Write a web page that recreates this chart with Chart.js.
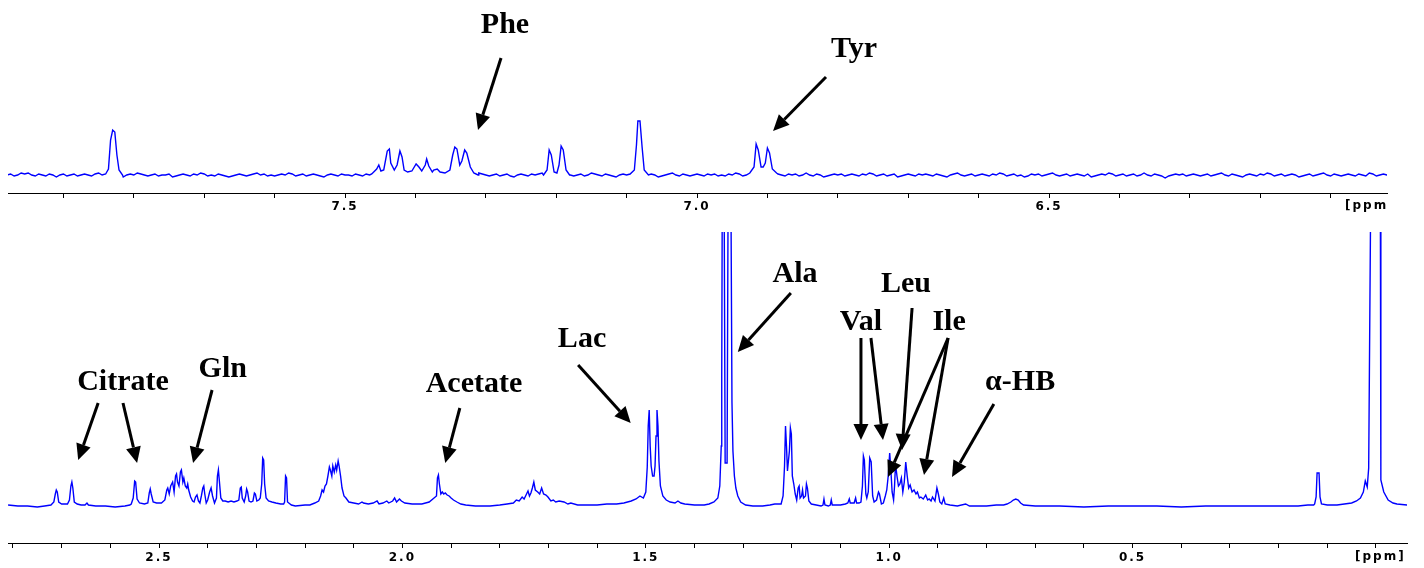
<!DOCTYPE html>
<html>
<head>
<meta charset="utf-8">
<script src="https://cdn.jsdelivr.net/npm/chart.js@4.4.1/dist/chart.umd.min.js"></script>
<style>
  html, body { margin: 0; padding: 0; background: #fff; }
  body { width: 1424px; height: 568px; position: relative; overflow: hidden; }
  #topBox { position: absolute; left: 0; top: 0; width: 1388px; height: 218px; overflow: hidden; }
  #bottomBox { position: absolute; left: 0; top: 228px; width: 1424px; height: 340px; }
</style>
</head>
<body>
<div id="topBox"><canvas id="topChart" width="1388" height="218"></canvas></div>
<div id="bottomBox"><canvas id="bottomChart" width="1424" height="340"></canvas></div>
<script>
// ---- aromatic region (top spectrum), ppm / intensity ----
const topRange = [6.0199, 7.9787];
const topGridStart = 7.98, topGridStep = 0.005;
// baseline noise, one value per grid step
const topNoise = [
  0,1,-1,0,2,1,2,0,-1,1,0,-1,1,0,-2,0,1,-1,0,1,
  -1,0,1,0,-1,1,2,0,1,-1,0,1,-1,-2,0,1,0,2,1,0,
  -1,0,1,-1,0,0,1,-2,-1,0,1,0,-1,1,0,2,1,-1,0,-1,
  1,0,-1,-2,-1,0,1,0,-1,0,1,2,0,1,-1,0,-1,0,1,0,
  2,1,-1,0,1,-1,0,1,0,-1,-2,0,1,0,-1,1,0,0,-1,1,
  0,-1,1,0,2,0,-1,1,0,-1,0,1,-1,-3,-1,0,1,0,1,-1,
  0,1,-1,0,1,0,-2,-1,0,1,0,-1,1,0,2,1,0,-1,0,1,
  -1,0,1,-1,-2,0,1,0,-1,1,0,1,2,0,-1,0,1,-1,0,1,
  0,-1,0,1,-1,0,2,1,0,-1,1,0,-1,-2,0,1,0,1,-1,0,
  1,-1,0,1,0,-2,-1,0,1,2,0,-1,1,0,-1,0,1,0,-1,1,
  0,1,-1,0,-1,1,0,2,1,-1,0,1,0,-1,0,1,-1,-2,0,1,
  0,-1,1,0,1,-1,0,2,0,-1,1,0,-2,-1,0,1,0,1,-1,0,
  1,0,-1,1,0,2,1,-1,0,1,-1,0,1,-2,-1,0,1,0,-1,1,
  0,1,0,-1,1,0,-1,-2,0,1,2,0,-1,0,1,-1,0,1,0,-1,
  1,0,2,1,-1,0,1,-1,0,-2,-1,1,0,1,-1,0,1,2,0,-1,
  0,1,-1,0,1,0,-1,1,-2,-1,0,1,0,2,1,-1,0,1,-1,0,
  1,-1,0,2,0,-1,1,0,-1,-3,-1,0,1,0,1,-1,0,1,0,-1,
  0,1,-1,0,1,2,0,-1,1,0,-1,-2,0,1,0,-1,1,0,2,1,
  -1,0,1,-1,0,1,0,-2,-1,0,1,-1,0,1,2,0,-1,1,0,-1,
  0,1,0,-1,1,0,-1,2,1,-1,0,1,0,-2,-1,1,0,1,-1,0
];
const peak783 = [[7.840,1],[7.836,6],[7.833,35],[7.830,45],[7.827,43],[7.824,20],[7.821,5],[7.816,0]];
const pheMultiplet = [
  [7.462,1],[7.455,6],[7.452,10],[7.449,4],[7.445,5],[7.440,24],[7.437,26],[7.435,12],[7.430,5],
  [7.426,10],[7.422,24],[7.419,18],[7.416,5],[7.411,3],[7.405,4],[7.399,11],[7.395,8],[7.391,4],
  [7.386,10],[7.384,16],[7.381,9],[7.376,3],[7.374,5],[7.369,6],[7.365,3],[7.358,2],[7.351,5],
  [7.347,20],[7.344,28],[7.341,26],[7.337,10],[7.334,14],[7.330,25],[7.327,22],[7.322,8],[7.317,2],[7.311,0]
];
const doublet720 = [[7.218,0],[7.213,5],[7.210,25],[7.207,20],[7.203,3],[7.199,2],[7.196,10],[7.193,29],[7.190,25],[7.186,5],[7.181,0]];
const peak708 = [[7.095,1],[7.089,5],[7.086,30],[7.084,54],[7.081,54],[7.078,28],[7.075,5],[7.069,0]];
const tyrDoublet = [[6.925,2],[6.919,8],[6.916,31],[6.913,25],[6.909,8],[6.906,8],[6.903,12],[6.900,27],[6.897,22],[6.893,6],[6.887,2]];

// ---- aliphatic region (bottom spectrum), ppm / intensity ----
const bottomRange = [-0.0637, 2.8102];
const citrateGlnTrace = [
  [2.810,1],[2.790,0],[2.770,0],[2.750,-1],[2.735,0],[2.722,1],[2.716,4],[2.713,12],[2.711,16],[2.709,14],[2.706,4],[2.700,2],
  [2.688,2],[2.684,6],[2.681,20],[2.679,24],[2.677,18],[2.674,4],[2.668,2],[2.660,1],[2.652,1],[2.648,3],[2.645,1],
  [2.630,0],[2.610,0],[2.590,-1],[2.570,0],[2.560,1],
  [2.557,2],[2.553,8],[2.550,25],[2.548,24],[2.545,7],[2.540,3],[2.530,2],
  [2.523,3],[2.520,13],[2.518,17],[2.516,12],[2.512,4],[2.505,3],[2.495,3],
  [2.488,6],[2.484,16],[2.482,18],[2.479,12],[2.476,20],[2.472,24],[2.469,14],[2.466,30],[2.464,32],[2.462,24],
  [2.459,20],[2.456,34],[2.454,36],[2.451,24],[2.449,28],[2.446,20],[2.443,18],[2.441,22],[2.439,16],[2.435,9],
  [2.431,5],[2.428,4],[2.425,9],[2.422,11],[2.419,5],[2.416,3],[2.413,10],[2.410,18],[2.408,20],[2.406,12],
  [2.403,3],[2.400,6],[2.396,14],[2.393,18],[2.390,10],[2.386,3],[2.382,8],[2.380,30],[2.378,36],[2.376,25],
  [2.373,8],[2.369,5],[2.364,5],[2.358,4],[2.352,5],[2.346,4],[2.340,5],
  [2.336,6],[2.333,18],[2.331,19],[2.329,8],[2.325,4],[2.322,10],[2.320,17],[2.318,14],[2.315,5],[2.311,4],
  [2.307,5],[2.304,13],[2.302,12],[2.299,5],[2.295,6],
  [2.292,8],[2.289,22],[2.287,48],[2.285,46],[2.283,22],[2.280,8],[2.275,5],[2.268,4],[2.260,3],[2.250,2],[2.244,2],
  [2.242,4],[2.240,30],[2.238,28],[2.236,4],[2.228,1],[2.220,0],[2.200,1],[2.190,1],[2.180,3],
  [2.172,5],[2.168,10],[2.165,16],[2.162,14],[2.159,20],[2.156,22],[2.153,30],[2.150,39],[2.148,36],[2.145,30],
  [2.143,40],[2.140,34],[2.137,41],[2.135,36],[2.132,45],[2.130,40],[2.127,30],[2.124,18],[2.120,10],[2.116,8],
  [2.110,4],[2.100,3],[2.090,2]
];
const acetateTrace = [
  [2.083,4],[2.080,3],[2.070,2],[2.060,3],[2.052,5],[2.048,2],[2.040,3],[2.032,5],[2.028,3],[2.020,5],[2.016,8],
  [2.012,4],[2.006,7],[2.002,5],[1.995,3],[1.980,2],[1.960,2],[1.945,4],[1.935,8],
  [1.930,10],[1.928,28],[1.926,31],[1.924,22],[1.921,12],[1.918,14],[1.915,12],[1.912,13],[1.908,11],[1.904,10],
  [1.900,8],[1.895,6],[1.888,4],[1.880,2],[1.870,1],[1.850,0],[1.820,0],[1.800,1],[1.785,2],
  [1.772,3],[1.766,6],[1.760,5],[1.754,9],[1.750,7],[1.745,12],[1.742,15],[1.739,10],[1.736,13],[1.733,18],
  [1.730,24],[1.727,16],[1.722,14],[1.718,12],[1.714,18],[1.710,12],[1.705,11],[1.701,9],[1.695,5],[1.690,6],
  [1.685,4],[1.678,5],[1.668,4],[1.660,2],[1.654,3],[1.640,1],[1.620,1],[1.600,1],[1.580,2],[1.560,2],
  [1.545,3],[1.530,5],[1.520,7],[1.512,10]
];
const lacAlaTrace = [
  [1.505,8],[1.500,14],[1.497,39],[1.495,80],[1.493,96],[1.491,60],[1.489,40],[1.486,30],[1.483,30],[1.481,40],
  [1.479,70],[1.477,96],[1.475,80],[1.473,45],[1.470,20],[1.465,10],[1.458,6],[1.450,4],[1.440,3],[1.434,5],
  [1.428,3],[1.420,2],[1.400,1],[1.380,1],[1.370,2],[1.360,4],
  [1.352,8],[1.348,20],[1.345,60],[1.344,129],[1.343,300],[1.339,300],[1.337,43],[1.333,43],[1.331,300],
  [1.325,300],[1.323,104],[1.321,55],[1.318,30],[1.315,18],[1.311,10],[1.305,4],[1.295,1],[1.280,0],[1.260,0],
  [1.245,1],[1.235,2],
  [1.222,2],[1.218,10],[1.215,40],[1.213,80],[1.211,60],[1.209,35],[1.207,45],[1.205,55],[1.203,78],[1.201,72],
  [1.199,30],[1.196,22],[1.193,12],[1.190,6],[1.187,18],[1.185,20],[1.183,8],[1.180,10],[1.178,16],[1.176,8],
  [1.172,10],[1.170,22],[1.168,18],[1.165,5],[1.160,2],[1.150,1],[1.140,0]
];
const bcaaTrace = [
  [1.136,1],[1.134,7],[1.132,1],[1.125,0],[1.121,1],[1.119,6],[1.117,1],[1.100,1],[1.090,2],[1.085,3],
  [1.082,7],[1.080,3],[1.072,3],[1.069,8],[1.067,3],[1.062,3],
  [1.058,4],[1.055,20],[1.053,50],[1.051,46],[1.048,12],[1.046,8],[1.043,14],[1.040,48],[1.037,44],[1.034,10],
  [1.031,4],[1.026,6],[1.022,14],[1.020,12],[1.016,2],[1.012,3],[1.008,10],[1.005,16],[1.002,30],[0.999,53],
  [0.997,40],[0.994,14],[0.991,6],[0.989,20],[0.987,42],[0.984,30],[0.981,20],[0.978,22],[0.975,28],[0.972,14],
  [0.969,24],[0.966,44],[0.963,30],[0.960,18],[0.957,21],[0.953,14],[0.949,16],[0.945,12],[0.942,14],[0.938,8],
  [0.935,9],[0.930,7],[0.925,11],[0.921,6],[0.918,7],[0.914,5],[0.911,9],[0.906,5],[0.902,18],[0.899,12],
  [0.896,4],[0.892,2],[0.888,8],[0.885,2],[0.875,1],[0.860,0],[0.843,2],[0.835,0],[0.820,0],[0.800,0],
  [0.780,1],[0.765,1],[0.758,2]
];
const upfieldTrace = [
  [0.756,2],[0.750,4],[0.745,6],[0.740,7],[0.735,6],[0.730,3],[0.724,1],[0.700,0],[0.650,0],[0.600,-1],
  [0.550,0],[0.500,0],[0.450,0],[0.400,-1],[0.350,0],[0.300,0],[0.250,0],[0.200,0],[0.160,0],[0.140,1],[0.128,1],
  [0.126,2],[0.123,9],[0.121,33],[0.117,33],[0.115,9],[0.112,2],[0.100,1],[0.080,1],[0.065,2],[0.050,3],
  [0.040,5],[0.032,8],[0.026,14],[0.022,25],
  [0.018,19],[0.015,38],[0.011,300],[0.000,300],[-0.009,300],[-0.010,26],[-0.016,14],[-0.025,6],
  [-0.035,3],[-0.043,2],[-0.064,1]
];

// ---- assignments: [ppm, intensity] for label baselines and arrows ----
const topLabels = [{text: 'Phe', at: [7.2727, 142]}, {text: 'Tyr', at: [6.777, 118]}];
const topArrows = [[7.2784, 117, 7.3111, 45], [6.8168, 98, 6.892, 44]];
const bottomLabels = [
  {text: 'Citrate', at: [2.574, 116]}, {text: 'Gln', at: [2.369, 129]}, {text: 'Acetate', at: [1.853, 114]},
  {text: 'Lac', at: [1.631, 159]}, {text: 'Ala', at: [1.1935, 224]}, {text: 'Leu', at: [0.9655, 214]},
  {text: 'Val', at: [1.058, 176]}, {text: 'Ile', at: [0.877, 176]}, {text: 'α-HB', at: [0.731, 116]}
];
const bottomArrows = [
  [2.625, 103, 2.666, 46], [2.574, 103, 2.545, 43], [2.391, 116, 2.430, 43], [1.882, 98, 1.912, 43],
  [1.639, 141, 1.531, 83], [1.202, 213, 1.311, 154], [0.953, 198, 0.9736, 56],
  [1.058, 168, 1.058, 66], [1.0375, 168, 1.0127, 66],
  [0.879, 168, 1.0025, 29], [0.879, 168, 0.9285, 31], [0.785, 102, 0.871, 29]
];

function toPoints(list) {
  return list.map(([x, y]) => ({x, y}));
}

function buildTopTrace() {
  const peaks = [peak783, pheMultiplet, doublet720, peak708, tyrDoublet];
  const spans = peaks.map(p => [p[p.length - 1][0], p[0][0]]);
  const pts = [];
  topNoise.forEach((v, i) => {
    const ppm = +(topGridStart - i * topGridStep).toFixed(4);
    if (!spans.some(([lo, hi]) => ppm >= lo && ppm <= hi)) pts.push([ppm, v]);
  });
  peaks.forEach(p => pts.push(...p));
  pts.sort((a, b) => b[0] - a[0]);
  return toPoints(pts);
}

function drawArrow(ctx, x1, y1, x2, y2) {
  const ang = Math.atan2(y2 - y1, x2 - x1), len = 16, half = 7.5;
  const bx = x2 - len * Math.cos(ang), by = y2 - len * Math.sin(ang);
  ctx.lineWidth = 3;
  ctx.beginPath(); ctx.moveTo(x1, y1); ctx.lineTo(bx, by); ctx.stroke();
  ctx.beginPath();
  ctx.moveTo(x2, y2);
  ctx.lineTo(bx + half * Math.sin(ang), by - half * Math.cos(ang));
  ctx.lineTo(bx - half * Math.sin(ang), by + half * Math.cos(ang));
  ctx.closePath(); ctx.fill();
}

const annotate = {
  id: 'annotate',
  beforeDraw(chart) { chart.ctx.letterSpacing = '2px'; },
  afterDraw(chart, args, opts) {
    const {ctx, scales: {x, y}} = chart;
    ctx.save();
    ctx.letterSpacing = '0px';
    ctx.fillStyle = '#000';
    ctx.strokeStyle = '#000';
    ctx.font = 'bold 30px "Liberation Serif", "Times New Roman", serif';
    ctx.textAlign = 'center';
    ctx.textBaseline = 'alphabetic';
    opts.labels.forEach(l => ctx.fillText(l.text, x.getPixelForValue(l.at[0]), y.getPixelForValue(l.at[1])));
    opts.arrows.forEach(a => drawArrow(ctx, x.getPixelForValue(a[0]), y.getPixelForValue(a[1]),
                                            x.getPixelForValue(a[2]), y.getPixelForValue(a[3])));
    ctx.letterSpacing = '2px';
    ctx.font = 'bold 12px "DejaVu Sans"';
    ctx.textAlign = 'left';
    ctx.textBaseline = 'top';
    ctx.fillText('[ppm]', x.getPixelForValue(opts.unitAt), x.top + 5 + opts.labelPad);
    ctx.restore();
    ctx.letterSpacing = '0px';
  }
};

function makeChart(id, points, range, yRange, padding, labelPad, ann) {
  return new Chart(document.getElementById(id), {
    type: 'line',
    data: {
      datasets: [{
        data: points,
        borderColor: '#0000ff',
        borderWidth: 1.4,
        pointRadius: 0,
        tension: 0,
        fill: false
      }]
    },
    options: {
      responsive: false,
      animation: false,
      layout: {padding},
      plugins: {legend: {display: false}, tooltip: {enabled: false}, annotate: ann},
      scales: {
        x: {
          type: 'linear',
          reverse: true,
          min: range[0],
          max: range[1],
          afterFit: s => { s.height = 25; },
          grid: {drawOnChartArea: false, drawTicks: true, tickLength: 5, color: '#000', lineWidth: 1},
          border: {display: true, color: '#000', width: 1},
          ticks: {
            stepSize: 0.1,
            includeBounds: false,
            autoSkip: false,
            maxRotation: 0,
            padding: labelPad,
            color: '#000',
            font: {family: 'DejaVu Sans', weight: 'bold', size: 12},
            // labels every 0.5 ppm; the 0 position carries the [ppm] unit instead
            callback: v => (Math.abs(v) > 1e-6 && Math.abs(v * 2 - Math.round(v * 2)) < 1e-6) ? v.toFixed(1) : ''
          }
        },
        y: {display: false, min: yRange[0], max: yRange[1]}
      }
    },
    plugins: [annotate]
  });
}

makeChart('topChart', buildTopTrace(), topRange, [-18, 165],
  {left: 8, right: 1, top: 10, bottom: 0}, 2,
  {labels: topLabels, arrows: topArrows, unitAt: 6.0795, labelPad: 2});

const bottomTrace = toPoints([].concat(citrateGlnTrace, acetateTrace, lacAlaTrace, bcaaTrace, upfieldTrace));
makeChart('bottomChart', bottomTrace, bottomRange, [-37, 274],
  {left: 8, right: 17, top: 4, bottom: 0}, 3,
  {labels: bottomLabels, arrows: bottomArrows, unitAt: 0.0431, labelPad: 3});
</script>
</body>
</html>
